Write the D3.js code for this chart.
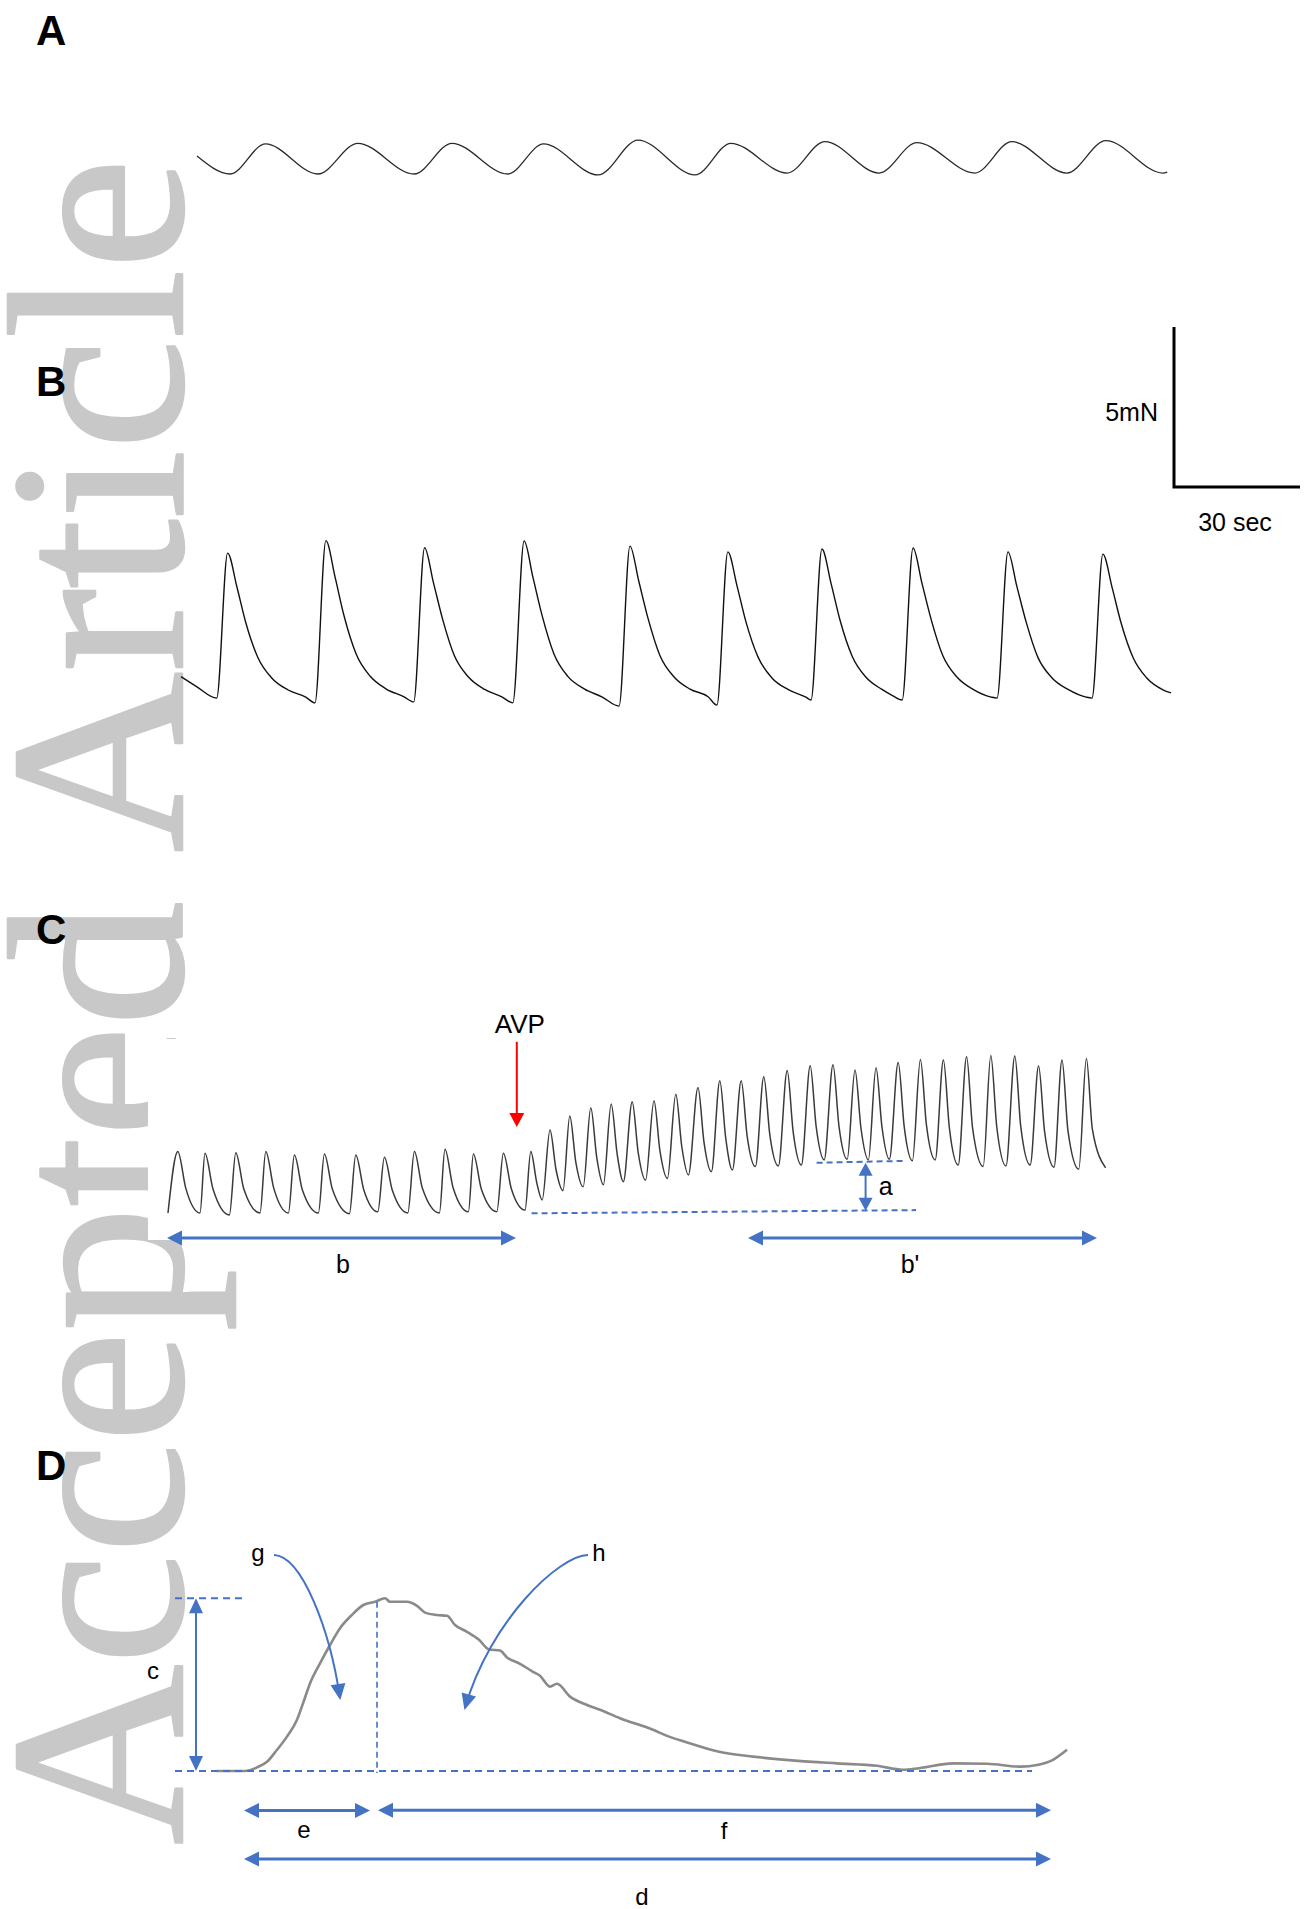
<!DOCTYPE html>
<html><head><meta charset="utf-8">
<script src="https://cdn.jsdelivr.net/npm/d3@7"></script>
<style>body{margin:0;background:#fff}svg{display:block}</style>
</head><body>
<svg id="fig" width="1311" height="1909"></svg>
<script>
// ---------------- DATA ----------------
const panelLabels = ["A", "B", "C", "D"];
const watermarkText = "Accepted Article";
const scaleBar = { force: 5, time: 30, forceLabel: "5mN", timeLabel: "30 sec" };

// Panel A: spontaneous sinusoidal trace — time (s), force (mN)
const aT = [0, 7.9, 16.3, 28.8, 38.3, 51.7, 60.7, 74.0, 82.5, 95.5, 105.0, 118.6, 127.1, 140.5, 149.5, 162.4, 171.4, 185.2, 194.0, 207.1, 216.4, 230.0, 231.0];
const aV = [0.56, 0, 0.94, 0, 0.96, 0, 0.96, 0, 0.94, -0.03, 1.06, -0.03, 0.96, 0.03, 1.01, 0.03, 0.98, 0.03, 1.01, 0.03, 1.04, 0.03, 0.06];

// Panel B: phasic contractions — time (s), force (mN)
const bT = [0, 3.7, 8.5, 11.1, 13.3, 15.4, 18.3, 21.6, 25.4, 29.7,
  31.9, 34.5, 36.7, 38.8, 41.7, 45.0, 48.8, 53.1,
  55.4, 58.0, 60.1, 62.3, 65.1, 68.5, 72.3, 76.5,
  79.0, 81.7, 83.8, 86.0, 88.8, 92.1, 96.0, 100.2,
  104.3, 106.9, 109.0, 111.2, 114.0, 117.4, 121.2, 125.5,
  127.6, 130.2, 132.4, 134.5, 137.4, 140.7, 144.5, 148.8,
  150.0, 152.6, 154.8, 156.9, 159.8, 163.1, 166.9, 169.5,
  171.7, 174.3, 176.4, 178.6, 181.4, 184.8, 188.6, 192.9,
  194.3, 196.9, 199.0, 201.2, 204.0, 207.4, 211.2, 215.5,
  216.9, 219.5, 221.7, 223.8, 226.7, 230.0, 233.8, 235.7];
const bV = [0.73, 0.42, 0.06, 4.59, 3.54, 2.43, 1.33, 0.69, 0.32, 0.09,
  -0.09, 4.98, 3.83, 2.64, 1.44, 0.75, 0.35, 0.10,
  -0.06, 4.76, 3.67, 2.52, 1.38, 0.71, 0.33, 0.09,
  -0.09, 4.97, 3.83, 2.63, 1.44, 0.74, 0.35, 0.10,
  -0.19, 4.81, 3.71, 2.55, 1.40, 0.72, 0.34, 0.10,
  -0.16, 4.63, 3.56, 2.45, 1.34, 0.69, 0.33, 0.09,
  0.0, 4.72, 3.63, 2.50, 1.37, 0.71, 0.33, 0.13,
  0.0, 4.75, 3.66, 2.52, 1.38, 0.71, 0.33, 0.09,
  0.06, 4.63, 3.56, 2.45, 1.34, 0.69, 0.33, 0.09,
  0.06, 4.56, 3.51, 2.42, 1.32, 0.68, 0.32, 0.22];

// Panel C: response to AVP — time (s, compressed), force (mN)
const cT = [0, 4.9, 8.9, 16.0, 18.5, 22.5, 30.7, 33.9, 37.9, 46.0, 48.9, 52.9, 60.2, 63.2, 67.2, 75.2, 78.2, 82.2, 90.7, 93.9, 97.9, 104.9, 108.2, 112.2, 119.9, 123.2, 127.2, 135.7, 138.5, 142.5, 150.2, 152.7, 156.7, 164.4, 167.7, 171.7, 178.5, 181.4, 184.4, 187.1, 191.0, 194.0, 197.5, 200.9, 203.9, 207.6, 211.4, 214.4, 217.7, 221.6, 224.6, 227.7, 232.1, 235.1, 238.8, 243.0, 246.0, 249.7, 253.9, 256.9, 260.2, 265.0, 268.0, 271.7, 275.9, 278.9, 282.2, 286.6, 289.6, 293.7, 297.9, 300.9, 305.2, 309.6, 312.6, 316.7, 321.1, 324.1, 328.1, 332.5, 335.5, 339.6, 343.5, 346.5, 350.2, 354.0, 357.0, 360.7, 365.1, 368.1, 372.2, 376.2, 379.2, 383.6, 387.7, 390.7, 395.1, 399.3, 402.3, 407.6, 411.4, 414.4, 419.0, 423.4, 426.4, 431.1, 435.3, 438.3, 443.0, 447.0, 450.0, 455.4, 459.2, 462.2, 468.8];
const cV = [0, 1.92, 0.77, 0, 1.87, 0.75, -0.06, 1.88, 0.75, 0, 1.92, 0.77, 0, 1.81, 0.72, 0, 1.84, 0.74, -0.02, 1.81, 0.72, 0.04, 1.74, 0.70, 0, 1.92, 0.77, 0, 1.99, 0.80, 0.04, 1.84, 0.74, 0.04, 1.87, 0.75, 0.09, 1.92, 0.94, 0.41, 2.59, 1.36, 0.70, 3.03, 1.59, 0.82, 3.29, 1.72, 0.88, 3.41, 1.83, 0.98, 3.48, 1.89, 1.03, 3.51, 1.93, 1.08, 3.71, 2.07, 1.19, 3.92, 2.21, 1.29, 4.13, 2.32, 1.34, 4.13, 2.39, 1.45, 4.26, 2.45, 1.47, 4.45, 2.53, 1.50, 4.60, 2.69, 1.66, 4.63, 2.71, 1.68, 4.47, 2.64, 1.66, 4.54, 2.68, 1.68, 4.70, 2.70, 1.63, 4.80, 2.76, 1.66, 4.78, 2.65, 1.50, 4.88, 2.65, 1.45, 4.92, 2.68, 1.47, 4.91, 2.69, 1.50, 4.59, 2.54, 1.43, 4.78, 2.56, 1.37, 4.83, 2.61, 1.41];
const avpTime = 174.4;
const avpLabel = "AVP";
const cLabels = ["a", "b", "b'"];

// Panel D: single contraction — time (s, expanded), force (mN)
const dT = [0, 1.4, 2.0, 2.5, 3.0, 3.5, 4.0, 4.3, 4.65, 5.15, 5.65, 6.15, 6.74, 7.32, 7.9, 8.4, 8.65, 9.49, 10.0, 10.4, 11.0, 11.5, 11.9, 12.5, 13.1, 13.6, 14.15, 14.5, 15.15, 15.8, 16.15, 16.65, 17.0, 17.65, 18.5, 19.15, 20.15, 21.8, 22.6, 23.4, 25.1, 26.8, 28.9, 31.0, 33.0, 34.3, 35.1, 36.8, 38.5, 40.2, 41.0, 41.8, 42.5];
const dV = [0, 0, 0.09, 0.23, 0.53, 0.86, 1.28, 1.69, 2.19, 2.69, 3.15, 3.57, 3.90, 4.15, 4.23, 4.32, 4.23, 4.23, 4.13, 3.96, 3.90, 3.88, 3.65, 3.48, 3.28, 3.04, 3.01, 2.84, 2.68, 2.48, 2.38, 2.11, 2.18, 1.86, 1.65, 1.53, 1.32, 1.03, 0.86, 0.73, 0.48, 0.36, 0.26, 0.19, 0.13, 0.03, 0.07, 0.19, 0.18, 0.11, 0.15, 0.28, 0.53];
const dLabels = ["c", "d", "e", "f", "g", "h"];
const dPeakTime = 8.0, dOnsetTime = 1.35, dEndTime = 41.7, dPeakForce = 4.32;

// ---------------- LAYOUT ----------------
const SEC_PX = 126 / 30;   // 30 s scale bar = 126 px
const MN_PX = 32;          // 5 mN scale bar = 160 px
const BLUE = "#4472C4";
const FONT = "'Liberation Sans', Arial, Helvetica, sans-serif";

const svg = d3.select("#fig");

// watermark
svg.append("text")
  .attr("transform", "translate(182,1845) rotate(-90)")
  .attr("font-family", "'Liberation Serif', 'Times New Roman', serif")
  .attr("font-size", 250)
  .attr("fill", "#c8c8c8")
  .attr("stroke", "#c8c8c8").attr("stroke-width", 2.5).attr("stroke-linejoin", "round")
  .text(watermarkText);

// white background of panel C image (covers part of the watermark)
svg.append("rect").attr("x", 148).attr("y", 1039).attr("width", 980).attr("height", 201).attr("fill", "#fff");

// panel letters
const labelY = [45, 396, 944, 1480];
panelLabels.forEach((l, i) => {
  svg.append("text").attr("x", 36).attr("y", labelY[i])
    .attr("font-family", FONT).attr("font-weight", "bold").attr("font-size", 42)
    .attr("fill", "#000").text(l);
});

// scales
const xA = d3.scaleLinear().domain([0, 1]).range([197, 197 + SEC_PX]);
const yA = d3.scaleLinear().domain([0, 1]).range([174, 174 - MN_PX]);
const xB = d3.scaleLinear().domain([0, 1]).range([181, 181 + SEC_PX]);
const yB = d3.scaleLinear().domain([0, 1]).range([700, 700 - MN_PX]);
const xC = d3.scaleLinear().domain([0, 1]).range([168, 170]);
const yC = d3.scaleLinear().domain([0, 1]).range([1213, 1213 - MN_PX]);
const xD = d3.scaleLinear().domain([0, 1]).range([217, 237]);
const yD = d3.scaleLinear().domain([0, 1]).range([1771, 1731]);

function trace(x, y, T, V, color, width) {
  const n = Math.min(T.length, V.length);
  const pts = d3.range(n).map(i => [T[i], V[i]]);
  svg.append("path")
    .attr("d", d3.line().x(d => x(d[0])).y(d => y(d[1])).curve(d3.curveMonotoneX)(pts))
    .attr("fill", "none").attr("stroke", color).attr("stroke-width", width)
    .attr("stroke-linejoin", "round");
}

trace(xA, yA, aT, aV, "#2a2a2a", 1.3);
trace(xB, yB, bT, bV, "#111", 1.4);
trace(xC, yC, cT, cV, "#3a3a3a", 1.5);
trace(xD, yD, dT, dV, "#8a8a8a", 2.6);

// scale bar (uses panel B scales)
const sbX = 1174, sbY = 487;
const sbH = yB(0) - yB(scaleBar.force);
const sbW = xB(scaleBar.time) - xB(0);
svg.append("path")
  .attr("d", `M${sbX},${sbY - sbH}V${sbY}H${sbX + sbW}`)
  .attr("fill", "none").attr("stroke", "#000").attr("stroke-width", 3);
svg.append("text").attr("x", sbX - 16).attr("y", sbY - sbH / 2 + 14)
  .attr("text-anchor", "end").attr("font-family", FONT).attr("font-size", 25).text(scaleBar.forceLabel);
svg.append("text").attr("x", sbX + sbW / 2 - 2).attr("y", sbY + 44)
  .attr("text-anchor", "middle").attr("font-family", FONT).attr("font-size", 25).text(scaleBar.timeLabel);

// helpers
function head(tx, ty, ang, len, wid, color) {
  const bx = tx - len * Math.cos(ang), by = ty - len * Math.sin(ang);
  const px = -Math.sin(ang) * wid / 2, py = Math.cos(ang) * wid / 2;
  svg.append("path").attr("d", `M${tx},${ty}L${bx + px},${by + py}L${bx - px},${by - py}Z`).attr("fill", color);
}
function dblArrow(x1, y1, x2, y2, sw, len, wid, color) {
  const ang = Math.atan2(y2 - y1, x2 - x1);
  const c = Math.cos(ang), s = Math.sin(ang);
  svg.append("line")
    .attr("x1", x1 + c * len * 0.7).attr("y1", y1 + s * len * 0.7)
    .attr("x2", x2 - c * len * 0.7).attr("y2", y2 - s * len * 0.7)
    .attr("stroke", color).attr("stroke-width", sw);
  head(x2, y2, ang, len, wid, color);
  head(x1, y1, ang + Math.PI, len, wid, color);
}
function dashed(x1, y1, x2, y2, sw, dash) {
  svg.append("line").attr("x1", x1).attr("y1", y1).attr("x2", x2).attr("y2", y2)
    .attr("stroke", BLUE).attr("stroke-width", sw).attr("stroke-dasharray", dash);
}
function label(x, y, t, size, anchor) {
  svg.append("text").attr("x", x).attr("y", y).attr("text-anchor", anchor || "middle")
    .attr("font-family", FONT).attr("font-size", size).attr("fill", "#000").text(t);
}

// ---- Panel C annotations ----
const avpX = xC(avpTime);
svg.append("line").attr("x1", avpX).attr("y1", yC(5.35)).attr("x2", avpX).attr("y2", yC(2.69) - 12)
  .attr("stroke", "#ff0000").attr("stroke-width", 2);
head(avpX, yC(2.69), Math.PI / 2, 14, 15, "#ff0000");
label(avpX + 3, yC(5.35) - 9, avpLabel, 26);

dashed(xC(181.8), yC(-0.01), xC(374), yC(0.09), 2, "6,4");
dashed(xC(324.3), yC(1.57), xC(369.3), yC(1.63), 2, "6,4");
dblArrow(xC(348.8), yC(1.57), xC(348.8), yC(0.07), 2, 13, 14, BLUE);
label(xC(358.8), yC(0.56), cLabels[0], 25);
dblArrow(xC(-0.5), yC(-0.78), xC(174), yC(-0.78), 3, 15, 15, BLUE);
dblArrow(xC(290), yC(-0.78), xC(464.5), yC(-0.78), 3, 15, 15, BLUE);
label(xC(87.5), yC(-1.87), cLabels[1], 25);
label(xC(371), yC(-1.87), cLabels[2], 25);

// ---- Panel D annotations ----
dashed(xD(-2.1), yD(0), xD(40.75), yD(0), 2, "7,5");
dashed(xD(-2.1), yD(dPeakForce), xD(1.25), yD(dPeakForce), 2, "7,5");
dashed(xD(dPeakTime), yD(4.23), xD(dPeakTime), yD(-0.05), 1.6, "6,4");
dblArrow(xD(-1.05), yD(dPeakForce), xD(-1.05), yD(0), 2, 15, 14, BLUE);
dblArrow(xD(dOnsetTime), yD(-0.99), xD(7.65), yD(-0.99), 3, 15, 15, BLUE);
dblArrow(xD(dPeakTime + 0.05), yD(-0.98), xD(dEndTime), yD(-0.98), 3, 15, 15, BLUE);
dblArrow(xD(dOnsetTime), yD(-2.2), xD(dEndTime), yD(-2.2), 3, 15, 15, BLUE);

function curvedArrow(p) {
  const P = p.map(q => [xD(q[0]), yD(q[1])]);
  svg.append("path")
    .attr("d", `M${P[0][0]},${P[0][1]}C${P[1][0]},${P[1][1]} ${P[2][0]},${P[2][1]} ${P[3][0]},${P[3][1]}`)
    .attr("fill", "none").attr("stroke", BLUE).attr("stroke-width", 2);
  const ang = Math.atan2(P[3][1] - P[2][1], P[3][0] - P[2][0]);
  head(P[3][0] + 2 * Math.cos(ang), P[3][1] + 2 * Math.sin(ang), ang, 16, 15, BLUE);
}
curvedArrow([[2.85, 5.4], [4.25, 5.375], [5.65, 3.525], [6.15, 1.825]]);
curvedArrow([[18.55, 5.4], [17.15, 5.4], [13.65, 3.775], [12.4, 1.575]]);

label(xD(-3.2), yD(2.3), dLabels[0], 24);
label(xD(21.25), yD(-3.35), dLabels[1], 24);
label(xD(4.35), yD(-1.68), dLabels[2], 24);
label(xD(25.35), yD(-1.7), dLabels[3], 24);
label(xD(2.05), yD(5.25), dLabels[4], 24);
label(xD(19.1), yD(5.25), dLabels[5], 24);
</script>
</body></html>
